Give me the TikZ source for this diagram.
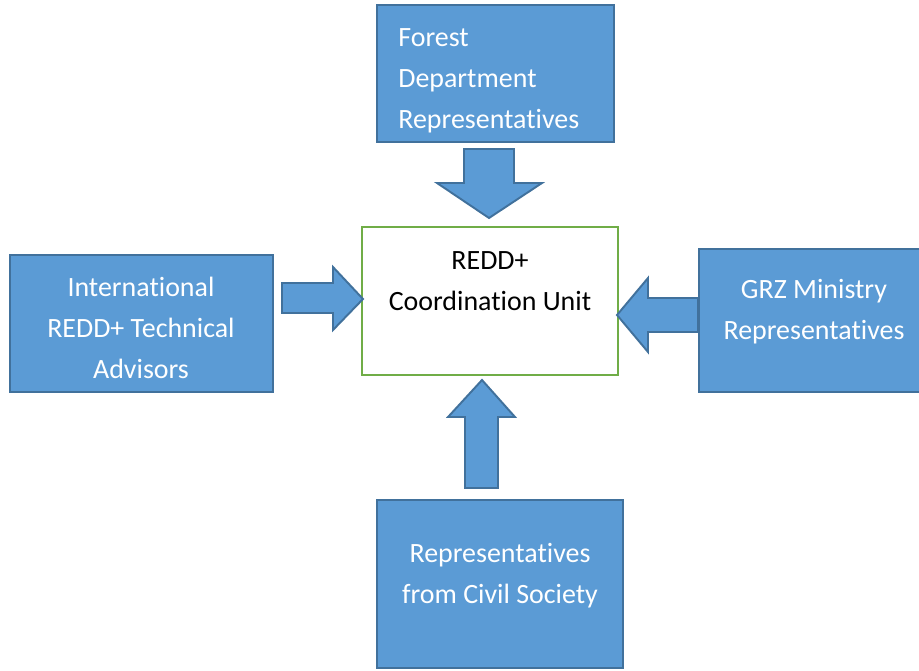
\documentclass[tikz,border=0pt]{standalone}
\usepackage{fontspec}
\setmainfont{Carlito}[RawFeature=-liga]
\usetikzlibrary{positioning}

\definecolor{boxblue}{HTML}{5B9BD5}
\definecolor{boxedge}{HTML}{41719C}
\definecolor{unitgreen}{HTML}{70AD47}

\tikzset{
    member/.style={draw=boxedge, fill=boxblue, line width=1.3pt, inner sep=0pt},
    unit/.style={draw=unitgreen, fill=white, line width=1.2pt, inner sep=0pt},
    label text/.style={text=white, inner sep=0pt, align=center,
        font=\fontsize{15.9pt}{23.3pt}\selectfont},
    blockarrow/.style={draw=boxedge, fill=boxblue, line width=1.1pt, line join=miter}
}

\begin{document}
\begin{tikzpicture}[x=0.02cm, y=-0.02cm]
    \useasboundingbox (0,0) rectangle (919,670);

    % 协调单元
    \node[unit, minimum width=5.12cm, minimum height=2.96cm] (unit) at (490,301) {};
    \node[label text, text=black] (unittext) at (490,281.5) {REDD+\\Coordination Unit};

    % 四个代表方
    \node[member, minimum width=4.74cm, minimum height=2.74cm] (forest) at (495.5,73.5) {};
    \node[label text, align=left, anchor=west] (foresttext) at (398,81)
        {Forest\\Department\\Representatives};

    \node[member, minimum width=5.26cm, minimum height=2.74cm] (intl) at (141.5,323.5) {};
    \node[label text] (intltext) at (141,328) {International\\REDD+ Technical\\Advisors};

    \node[member, minimum width=4.44cm, minimum height=2.86cm] (grz) at (810,320.5) {};
    \node[label text] (grztext) at (814,311.5) {GRZ Ministry\\Representatives};

    \node[member, minimum width=4.92cm, minimum height=3.36cm] (civil) at (500,584) {};
    \node[label text] (civiltext) at (500,576) {Representatives\\from Civil Society};

    % 块状箭头: 向下
    \draw[blockarrow] (464,149) -- (514,149) -- (514,183) -- (542,183)
        -- (489,218) -- (437,183) -- (464,183) -- cycle;
    % 向右
    \draw[blockarrow] (282,283) -- (333,283) -- (333,267) -- (363,299)
        -- (333,330) -- (333,313) -- (282,313) -- cycle;
    % 向左
    \draw[blockarrow] (698,298) -- (648,298) -- (648,278) -- (617,315)
        -- (648,352) -- (648,332) -- (698,332) -- cycle;
    % 向上
    \draw[blockarrow] (465,488) -- (465,417) -- (448,417) -- (482,380)
        -- (515,417) -- (498,417) -- (498,488) -- cycle;
\end{tikzpicture}
\end{document}
